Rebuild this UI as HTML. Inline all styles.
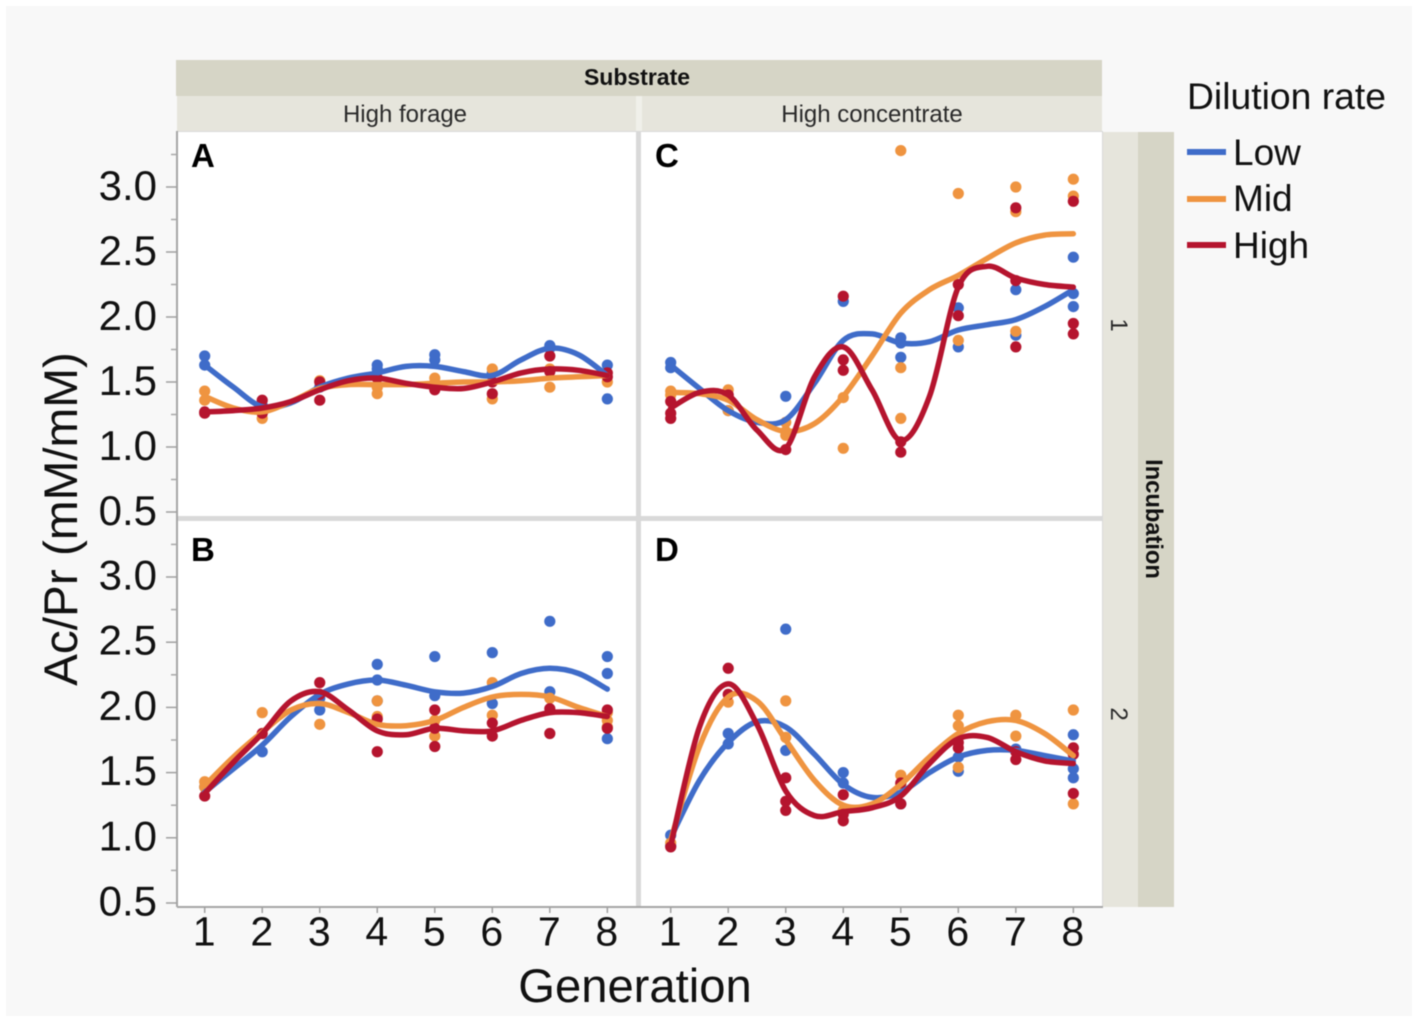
<!DOCTYPE html>
<html>
<head>
<meta charset="utf-8">
<title>Ac/Pr by generation</title>
<style>
html,body{margin:0;padding:0;background:#fff;}
svg{display:block;font-family:"Liberation Sans",Arial,sans-serif;filter:blur(0.4px);}
</style>
</head>
<body>
<svg id="chart" xmlns="http://www.w3.org/2000/svg" width="1418" height="1022" viewBox="0 0 1418 1022">
  <rect x="6" y="6" width="1406" height="1010" fill="#f8f8f8"/>
  <rect x="176" y="60" width="926" height="36" fill="#d6d5c6"/>
  <rect x="177" y="96" width="459" height="35" fill="#e6e5dc"/>
  <rect x="636" y="96" width="6" height="35" fill="#f0f0ea"/>
  <rect x="642" y="96" width="460" height="35" fill="#e6e5dc"/>
  <rect x="177" y="131" width="926" height="776" fill="#d9d9d9"/>
  <rect x="178" y="132" width="458" height="384" fill="#fff"/>
  <rect x="641" y="132" width="461" height="384" fill="#fff"/>
  <rect x="178" y="521" width="458" height="385" fill="#fff"/>
  <rect x="641" y="521" width="461" height="385" fill="#fff"/>
  <rect x="1103" y="132" width="35" height="775" fill="#e6e5dc"/>
  <rect x="1138" y="132" width="36" height="775" fill="#d6d5c6"/>
  <text x="637" y="85" font-size="23" font-weight="bold" text-anchor="middle" fill="#111">Substrate</text>
  <text x="405" y="122" font-size="24" text-anchor="middle" fill="#2a2a2a">High forage</text>
  <text x="872" y="122" font-size="24" text-anchor="middle" fill="#2a2a2a">High concentrate</text>
  <text transform="translate(1146,519) rotate(90)" font-size="23.7" font-weight="bold" text-anchor="middle" fill="#111">Incubation</text>
  <text transform="translate(1111,325) rotate(90)" font-size="24" text-anchor="middle" fill="#2a2a2a">1</text>
  <text transform="translate(1111,714) rotate(90)" font-size="24" text-anchor="middle" fill="#2a2a2a">2</text>
  <text transform="translate(77,519) rotate(-90)" font-size="47.7" text-anchor="middle" fill="#111">Ac/Pr (mM/mM)</text>
  <text x="635" y="1002" font-size="47.2" text-anchor="middle" fill="#111">Generation</text>
  <text x="1187" y="109" font-size="37.3" fill="#111">Dilution rate</text>
  <g>
    <rect x="1187" y="149" width="39" height="6" fill="#3f6cc9"/>
    <text x="1233" y="165" font-size="37" fill="#111">Low</text>
  </g>
  <g>
    <rect x="1187" y="196" width="39" height="6" fill="#ef9440"/>
    <text x="1233" y="211" font-size="37" fill="#111">Mid</text>
  </g>
  <g>
    <rect x="1187" y="242" width="39" height="6" fill="#b5142e"/>
    <text x="1233" y="258" font-size="37" fill="#111">High</text>
  </g>
  <g id="axes"></g>
  <g id="marks"></g>
  <g font-size="33" font-weight="bold" fill="#000">
    <text x="191" y="167">A</text>
    <text x="655" y="167">C</text>
    <text x="191" y="561">B</text>
    <text x="655" y="561">D</text>
  </g>
</svg>
<script>
const generations = [1, 2, 3, 4, 5, 6, 7, 8];
const fitGenerations = [1, 1.5, 2, 2.5, 3, 3.5, 4, 4.5, 5, 5.5, 6, 6.5, 7, 7.5, 8];
const yMajorTicks = [0.5, 1.0, 1.5, 2.0, 2.5, 3.0];
const yMinorTicks = [0.75, 1.25, 1.75, 2.25, 2.75, 3.25];

// Panel A: High forage, incubation 1
const aLowPoints = [[1.70,1.63],[1.32],[1.46],[1.63,1.60],[1.71,1.67],[1.57],[1.78,1.76],[1.63,1.37]];
const aMidPoints = [[1.43,1.36],[1.22,1.26],[1.51],[1.46,1.41],[1.53,1.49],[1.60,1.37],[1.60,1.46],[1.50]];
const aHighPoints = [[1.27,1.26],[1.36,1.26],[1.50,1.36],[1.53],[1.44],[1.50,1.41],[1.70,1.58],[1.57,1.54]];
const aLowFit = [1.63,1.46,1.31,1.34,1.46,1.53,1.57,1.62,1.62,1.58,1.55,1.67,1.76,1.71,1.55];
const aMidFit = [1.39,1.30,1.27,1.35,1.45,1.48,1.48,1.48,1.49,1.50,1.50,1.51,1.53,1.54,1.55];
const aHighFit = [1.27,1.28,1.30,1.35,1.44,1.51,1.53,1.49,1.46,1.45,1.50,1.57,1.60,1.59,1.55];

// Panel C: High concentrate, incubation 1
const cLowPoints = [[1.65,1.61],[1.28],[1.39],[2.12],[1.84,1.80,1.69],[2.07,1.77],[2.21,1.86],[2.46,2.18,2.08]];
const cMidPoints = [[1.43,1.40],[1.44,1.28],[1.19,1.12,1.09],[1.38,0.99],[3.28,1.61,1.22],[2.95,1.82],[3.00,2.81,1.89],[3.06,2.93]];
const cHighPoints = [[1.35,1.26,1.22],[1.40],[0.98],[2.16,1.67,1.59],[1.04,0.96],[2.25,2.01],[2.84,2.28,1.77],[2.89,1.95,1.87]];
const cLowFit = [1.63,1.45,1.28,1.19,1.21,1.49,1.82,1.87,1.80,1.81,1.90,1.94,1.98,2.08,2.21];
const cMidFit = [1.42,1.41,1.36,1.21,1.12,1.18,1.39,1.70,2.03,2.21,2.32,2.45,2.57,2.63,2.64];
const cHighFit = [1.30,1.42,1.40,1.13,0.99,1.54,1.77,1.44,1.05,1.39,2.23,2.39,2.30,2.25,2.23];

// Panel B: High forage, incubation 2
const bLowPoints = [[1.39],[1.66],[1.98,2.07],[2.33,2.21,2.05],[2.39,2.09],[2.42,2.03],[2.66,2.12],[2.39,2.26,1.76]];
const bMidPoints = [[1.43,1.39],[1.96],[1.87],[2.05,1.93],[1.90,1.78],[2.19,1.94],[2.07],[1.96,1.90,1.85]];
const bHighPoints = [[1.32],[1.80],[2.19,2.10],[1.91,1.66],[1.98,1.84,1.70],[1.88,1.78],[1.99,1.80],[1.98,1.84]];
const bLowFit = [1.35,1.53,1.71,1.93,2.10,2.18,2.21,2.17,2.12,2.11,2.16,2.26,2.30,2.26,2.14];
const bMidFit = [1.40,1.62,1.81,1.98,2.03,1.96,1.87,1.86,1.90,2.00,2.08,2.10,2.08,2.00,1.93];
const bHighFit = [1.34,1.58,1.80,2.05,2.12,1.98,1.82,1.79,1.84,1.82,1.82,1.90,1.96,1.96,1.93];

// Panel D: High concentrate, incubation 2
const dLowPoints = [[1.02,0.94],[1.80,1.72],[2.60,1.67],[1.50,1.42],[1.26],[1.62,1.51],[1.68],[1.79,1.53,1.46]];
const dMidPoints = [[0.96],[2.04],[2.05,1.77],[1.21],[1.48,1.41],[1.94,1.86,1.54],[1.94,1.78],[1.98,1.26]];
const dHighPoints = [[0.93],[2.30,2.10],[1.46,1.28,1.21],[1.33,1.18,1.13],[1.42,1.26],[1.73,1.69],[1.66,1.60],[1.69,1.64,1.34]];
const dLowFit = [1.00,1.44,1.73,1.89,1.85,1.64,1.41,1.31,1.35,1.50,1.62,1.67,1.67,1.63,1.59];
const dMidFit = [0.98,1.70,2.08,2.05,1.75,1.44,1.25,1.26,1.41,1.62,1.80,1.89,1.90,1.80,1.63];
const dHighFit = [0.94,1.85,2.18,1.87,1.36,1.17,1.20,1.23,1.32,1.57,1.76,1.77,1.66,1.59,1.57];

const NS = 'http://www.w3.org/2000/svg';
const seriesColors = { low: '#3f6cc9', mid: '#ef9440', high: '#b5142e' };
const panels = [
  { id: 'a', col: 0, row: 0, low: [aLowPoints, aLowFit], mid: [aMidPoints, aMidFit], high: [aHighPoints, aHighFit] },
  { id: 'c', col: 1, row: 0, low: [cLowPoints, cLowFit], mid: [cMidPoints, cMidFit], high: [cHighPoints, cHighFit] },
  { id: 'b', col: 0, row: 1, low: [bLowPoints, bLowFit], mid: [bMidPoints, bMidFit], high: [bHighPoints, bHighFit] },
  { id: 'd', col: 1, row: 1, low: [dLowPoints, dLowFit], mid: [dMidPoints, dMidFit], high: [dHighPoints, dHighFit] }
];

function xScale(col, g) {
  const left = col === 0 ? 204.7 : 670.7;
  return left + (g - 1) * 57.52;
}
function yScale(row, v) {
  const y3 = row === 0 ? 187 : 577;
  const k = row === 0 ? 130 : 130.4;
  return y3 + (3 - v) * k;
}
function make(tag, attrs) {
  const el = document.createElementNS(NS, tag);
  for (const key in attrs) el.setAttribute(key, attrs[key]);
  return el;
}
function smoothPath(pts) {
  let d = 'M' + pts[0][0].toFixed(1) + ' ' + pts[0][1].toFixed(1);
  for (let i = 0; i < pts.length - 1; i++) {
    const p0 = pts[Math.max(0, i - 1)];
    const p1 = pts[i];
    const p2 = pts[i + 1];
    const p3 = pts[Math.min(pts.length - 1, i + 2)];
    const c1x = p1[0] + (p2[0] - p0[0]) / 6;
    const c1y = p1[1] + (p2[1] - p0[1]) / 6;
    const c2x = p2[0] - (p3[0] - p1[0]) / 6;
    const c2y = p2[1] - (p3[1] - p1[1]) / 6;
    d += 'C' + c1x.toFixed(1) + ' ' + c1y.toFixed(1) + ' ' + c2x.toFixed(1) + ' ' + c2y.toFixed(1) + ' ' + p2[0].toFixed(1) + ' ' + p2[1].toFixed(1);
  }
  return d;
}

const axes = document.getElementById('axes');
const marks = document.getElementById('marks');

// Axis lines
[[177, 131, 177, 907], [177, 907, 1103, 907]].forEach(function (c, i) {
  const line = make('line', { x1: c[0], y1: c[1], x2: c[2], y2: c[3], stroke: '#a6a6a6', 'stroke-width': 2 });
  
  
  axes.appendChild(line);
});

// Y ticks and labels
[0, 1].forEach(function (row) {
  yMajorTicks.forEach(function (v) {
    const y = yScale(row, v);
    const tick = make('line', { x1: 166, y1: y, x2: 177, y2: y, stroke: '#a0a0a0', 'stroke-width': 1.5 });
    
    
    axes.appendChild(tick);
    const label = make('text', { x: 157, y: y + (row === 0 ? 13 : 12.5), 'font-size': 42, 'text-anchor': 'end', fill: '#111' });
    
    
    label.textContent = v.toFixed(1);
    axes.appendChild(label);
  });
  yMinorTicks.forEach(function (v) {
    const y = yScale(row, v);
    const tick = make('line', { x1: 171, y1: y, x2: 177, y2: y, stroke: '#a8a8a8', 'stroke-width': 1.5 });
    
    
    axes.appendChild(tick);
  });
});

// X ticks and labels
[0, 1].forEach(function (col) {
  generations.forEach(function (g) {
    const x = xScale(col, g);
    const tick = make('line', { x1: x, y1: 907, x2: x, y2: 913, stroke: '#a0a0a0', 'stroke-width': 1.5 });
    
    
    axes.appendChild(tick);
    const label = make('text', { x: x - 0.5, y: 945.5, 'font-size': 41, 'text-anchor': 'middle', fill: '#111' });
    
    
    label.textContent = g;
    axes.appendChild(label);
  });
});

// Series marks
panels.forEach(function (panel) {
  ['low', 'mid', 'high'].forEach(function (key) {
    const color = seriesColors[key];
    const pointSets = panel[key][0];
    pointSets.forEach(function (values, gi) {
      values.forEach(function (v) {
        const dot = make('circle', { cx: xScale(panel.col, generations[gi]), cy: yScale(panel.row, v), r: 5.6, fill: color });
        
        
        marks.appendChild(dot);
      });
    });
  });
  ['low', 'mid', 'high'].forEach(function (key) {
    const fit = panel[key][1];
    const pts = fit.map(function (v, i) {
      return [xScale(panel.col, fitGenerations[i]), yScale(panel.row, v)];
    });
    const curve = make('path', { d: smoothPath(pts), fill: 'none', stroke: seriesColors[key], 'stroke-width': 5.5, 'stroke-linecap': 'round', 'stroke-linejoin': 'round' });
    
    
    marks.appendChild(curve);
  });
});
</script>
</body>
</html>
